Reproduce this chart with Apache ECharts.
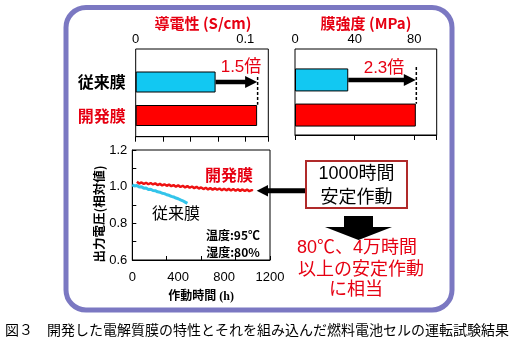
<!DOCTYPE html>
<html><head><meta charset="utf-8">
<script src="https://cdn.jsdelivr.net/npm/echarts@6/dist/echarts.min.js"></script>
<style>html,body{margin:0;padding:0;background:#fff}#c{width:521px;height:347px}</style>
</head><body><div id="c"></div>
<script>
// ---- data ----
const membranes = ['従来膜', '開発膜'];
const conductivity = [0.0729, 0.1108];     // S/cm
const strength = [35.7, 81.0];             // MPa
const condTickLabels = [0, 0.1];
const strengthTickLabels = [0, 40, 80];
const ratioLabels = ['1.5倍', '2.3倍'];
const hoursDev = [40,60,80,100,120,140,160,180,200,220,240,260,280,300,320,340,360,380,400,420,440,460,480,500,520,540,560,580,600,620,640,660,680,700,720,740,760,780,800,820,840,860,880,900,920,940,960,980,1000,1020,1040,1050];
const voltDev = [1.027,1.017,1.023,1.015,1.021,1.013,1.020,1.012,1.018,1.009,1.015,1.007,1.013,1.005,1.011,1.003,1.009,1.000,1.007,0.998,1.005,0.996,1.003,0.994,1.001,0.992,0.999,0.990,0.996,0.987,0.994,0.985,0.992,0.984,0.991,0.983,0.990,0.981,0.989,0.980,0.988,0.979,0.987,0.978,0.986,0.977,0.985,0.976,0.984,0.975,0.982,0.977];
const hoursConv = [0,20,40,60,80,100,120,140,160,180,200,220,240,260,280,300,320,340,360,380,400,420,440,460,480];
const voltConv = [1.010,1.004,1.006,0.998,0.999,0.992,0.993,0.985,0.986,0.979,0.978,0.972,0.970,0.964,0.962,0.956,0.953,0.947,0.944,0.938,0.934,0.928,0.923,0.916,0.909];
const timeTickLabels = [0, 400, 800, 1200];
const voltTickLabels = [0.6, 0.8, 1.0, 1.2];

const LAT = "'Liberation Sans','Noto Sans CJK JP',sans-serif";
const JP = "'Noto Sans CJK JP',sans-serif";
const RED = '#e60012';

function near(v, arr){ return arr.some(a => Math.abs(a - v) < 1e-9); }

function frameAxes(gi, max, interval, labels){
  return {
    x: { type:'value', gridIndex:gi, position:'top', min:0, max:max, interval:interval,
      axisLine:{show:true, lineStyle:{color:'#000', width:1}},
      axisTick:{show:true, inside:true, length:5, lineStyle:{color:'#000'}},
      axisLabel:{margin:3, color:'#000', fontSize:13, fontFamily:LAT,
        formatter: v => near(v, labels) ? String(v) : ''},
      splitLine:{show:false} },
    y: { type:'value', gridIndex:gi, show:false, min:0, max:1 }
  };
}
const f0 = frameAxes(0, 0.121, 0.025, condTickLabels);
const f1 = frameAxes(2, 95, 40, strengthTickLabels);

function arrowSeries(xi, yi, values, dashTop){
  return {
    type:'custom', xAxisIndex:xi, yAxisIndex:yi, z:10, clip:false, silent:true,
    data:[[values[0], 0, values[1]]],
    renderItem:(params, api) => {
      const s = api.coord([api.value(0), 0]);
      const e = api.coord([api.value(2), 0]);
      const r = api.coord([api.value(2), 1]);
      const barHalf = api.size([0, 1])[1] * 0.32;
      const headL = 12, headH = 6;
      return { type:'group', children:[
        { type:'line', shape:{x1:s[0], y1:s[1], x2:e[0]-headL+1, y2:e[1]}, style:{stroke:'#000', lineWidth:4.5} },
        { type:'polygon', shape:{points:[[e[0]-headL, e[1]-headH],[e[0], e[1]],[e[0]-headL, e[1]+headH]]}, style:{fill:'#000'} },
        { type:'line', shape:{x1:e[0]+0.5, y1:e[1]-dashTop, x2:e[0]+0.5, y2:r[1]-barHalf}, style:{stroke:'#000', lineWidth:1.5, lineDash:[3,2]} }
      ]};
    }
  };
}

const chart = echarts.init(document.getElementById('c'), null, {renderer:'canvas'});
chart.setOption({
  animation:false,
  backgroundColor:'#fff',
  grid:[
    {left:135.7, right:252.7, top:49, bottom:210.3, show:true, borderColor:'#000', borderWidth:1, backgroundColor:'#fff'},
    {left:135.7, right:252.7, top:65.25, bottom:214.75},
    {left:295, right:84.3, top:49, bottom:212, show:true, borderColor:'#000', borderWidth:1, backgroundColor:'#fff'},
    {left:295, right:84.3, top:62.35, bottom:214.35},
    {left:132.3, right:251, top:150, bottom:87, show:true, borderColor:'#000', borderWidth:1}
  ],
  xAxis:[
    f0.x,
    {type:'value', gridIndex:1, min:0, max:0.121, show:false},
    f1.x,
    {type:'value', gridIndex:3, min:0, max:95, show:false},
    {type:'value', gridIndex:4, position:'bottom', min:0, max:1200, interval:300,
      axisLine:{show:true, lineStyle:{color:'#000'}},
      axisTick:{show:true, inside:true, length:4, lineStyle:{color:'#000'}},
      axisLabel:{show:false}, splitLine:{show:false}},
    {type:'value', gridIndex:4, position:'bottom', min:0, max:1200, interval:400,
      axisLine:{show:false}, axisTick:{show:false}, splitLine:{show:false},
      axisLabel:{margin:11, color:'#000', fontSize:13, fontFamily:LAT,
        formatter: v => near(v, timeTickLabels) ? String(v) : ''},
      name:'作動時間 (h)', nameLocation:'middle', nameGap:31,
      nameTextStyle:{fontSize:12, fontWeight:'bold', color:'#000', fontFamily:"'Liberation Serif','Noto Sans CJK JP',serif"}}
  ],
  yAxis:[
    f0.y,
    {type:'category', gridIndex:1, data:membranes, inverse:true,
      axisLine:{show:false}, axisTick:{show:false},
      axisLabel:{margin:10, fontSize:16, fontFamily:JP,
        formatter:(v, i) => i === 0 ? '{a|' + v + '}' : '{b|' + v + '}',
        rich:{a:{color:'#000', fontSize:16, fontFamily:JP, fontWeight:'bold'}, b:{color:RED, fontSize:16, fontFamily:JP, fontWeight:'bold'}}}},
    f1.y,
    {type:'category', gridIndex:3, data:membranes, inverse:true, show:false},
    {type:'value', gridIndex:4, min:0.6, max:1.2, interval:0.1,
      axisLine:{show:true, lineStyle:{color:'#000'}},
      axisTick:{show:true, inside:true, length:4, lineStyle:{color:'#000'}},
      splitLine:{show:false},
      axisLabel:{margin:5, color:'#000', fontSize:13, fontFamily:LAT,
        formatter: v => near(v, voltTickLabels) ? v.toFixed(1) : ''}}
  ],
  series:[
    {type:'bar', xAxisIndex:1, yAxisIndex:1, barWidth:21, silent:true,
      data: conductivity.map((v, i) => ({value:v, itemStyle:{color: i === 0 ? '#12c8f2' : '#ff0000', borderColor:'#000', borderWidth:1}}))},
    {type:'bar', xAxisIndex:3, yAxisIndex:3, barWidth:23, silent:true,
      data: strength.map((v, i) => ({value:v, itemStyle:{color: i === 0 ? '#12c8f2' : '#ff0000', borderColor:'#000', borderWidth:1}}))},
    arrowSeries(1, 1, conductivity, 5),
    arrowSeries(3, 3, strength, 13),
    {type:'line', xAxisIndex:4, yAxisIndex:4, showSymbol:false, silent:true,
      data: hoursConv.map((h, i) => [h, voltConv[i]]),
      lineStyle:{color:'#33c4ea', width:3}},
    {type:'line', xAxisIndex:4, yAxisIndex:4, showSymbol:false, silent:true,
      data: hoursDev.map((h, i) => [h, voltDev[i]]),
      lineStyle:{color:'#ee1111', width:2.5}}
  ],
  graphic:[
    {type:'rect', z:-10, shape:{x:66, y:7.5, width:386, height:302.5, r:20}, style:{fill:'none', stroke:'#7b78c2', lineWidth:5}},
    {type:'text', x:203, y:23, style:{text:'導電性 (S/cm)', fill:RED, font:"bold 15px 'Noto Sans CJK JP',sans-serif", align:'center', verticalAlign:'middle'}},
    {type:'text', x:366, y:23, style:{text:'膜強度 (MPa)', fill:RED, font:"bold 15px 'Noto Sans CJK JP',sans-serif", align:'center', verticalAlign:'middle'}},
    {type:'text', x:241, y:67.5, z:20, style:{text:ratioLabels[0], fill:RED, font:"17px 'Liberation Sans','Noto Sans CJK JP',sans-serif", align:'center', verticalAlign:'middle'}},
    {type:'text', x:384, y:68, z:20, style:{text:ratioLabels[1], fill:RED, font:"17px 'Liberation Sans','Noto Sans CJK JP',sans-serif", align:'center', verticalAlign:'middle'}},
    {type:'text', x:229, y:175, style:{text:'開発膜', fill:RED, font:"bold 16px 'Noto Sans CJK JP',sans-serif", align:'center', verticalAlign:'middle'}},
    {type:'text', x:176, y:213, style:{text:'従来膜', fill:'#000', font:"16px 'Noto Sans CJK JP',sans-serif", align:'center', verticalAlign:'middle'}},
    {type:'text', x:233, y:235, style:{text:'温度:95℃', fill:'#000', font:"bold 12px 'Noto Sans CJK JP',sans-serif", align:'center', verticalAlign:'middle'}},
    {type:'text', x:233, y:252, style:{text:'湿度:80%', fill:'#000', font:"bold 12px 'Noto Sans CJK JP',sans-serif", align:'center', verticalAlign:'middle'}},
    // y axis title
    {type:'text', x:99, y:214, rotation:Math.PI/2, style:{text:'出力電圧(相対値)', fill:'#000', font:"bold 12.5px 'Noto Sans CJK JP',sans-serif", align:'center', verticalAlign:'middle'}},
    // arrow from box to plot
    {type:'rect', shape:{x:266, y:188.3, width:40, height:5}, style:{fill:'#000'}},
    {type:'polygon', shape:{points:[[256.7,190.8],[268,185],[268,196.6]]}, style:{fill:'#000'}},
    // box
    {type:'rect', shape:{x:306, y:161, width:101, height:47}, style:{fill:'#fff', stroke:'#b02a2a', lineWidth:2}},
    {type:'text', x:356.5, y:174.5, style:{text:'1000時間', fill:'#000', font:"18px 'Liberation Sans','Noto Sans CJK JP',sans-serif", align:'center', verticalAlign:'middle'}},
    {type:'text', x:356.5, y:196, style:{text:'安定作動', fill:'#000', font:"18px 'Noto Sans CJK JP',sans-serif", align:'center', verticalAlign:'middle'}},
    // down arrow
    {type:'polygon', shape:{points:[[344,216],[373,216],[373,227],[392,227],[358.5,240],[325,227],[344,227]]}, style:{fill:'#000'}},
    {type:'text', x:357, y:248, style:{text:'80℃、4万時間', fill:RED, font:"18px 'Liberation Sans','Noto Sans CJK JP',sans-serif", align:'center', verticalAlign:'middle'}},
    {type:'text', x:361, y:268, style:{text:'以上の安定作動', fill:RED, font:"18px 'Noto Sans CJK JP',sans-serif", align:'center', verticalAlign:'middle'}},
    {type:'text', x:356, y:288, style:{text:'に相当', fill:RED, font:"18px 'Noto Sans CJK JP',sans-serif", align:'center', verticalAlign:'middle'}},
    // caption
    {type:'text', x:5, y:330, style:{text:'図３　開発した電解質膜の特性とそれを組み込んだ燃料電池セルの運転試験結果', fill:'#000', font:"14px 'Noto Sans CJK JP',sans-serif", align:'left', verticalAlign:'middle'}}
  ]
});
</script></body></html>
